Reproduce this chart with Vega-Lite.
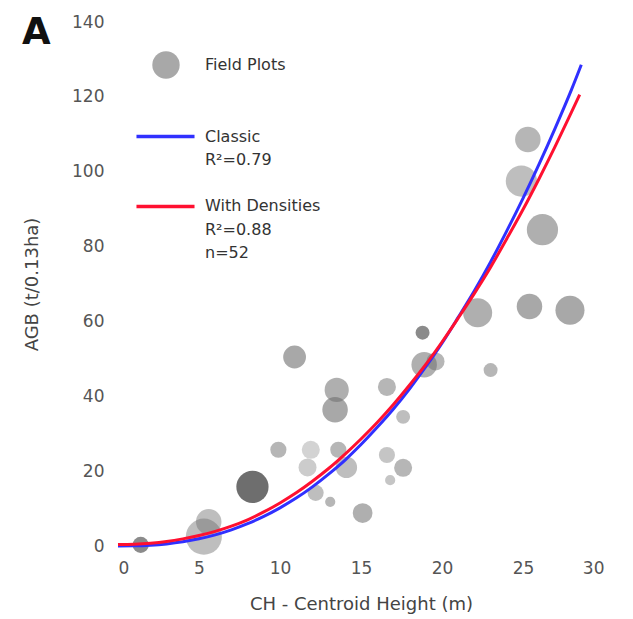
{
  "$schema": "https://vega.github.io/schema/vega-lite/v6.json",
  "autosize": "none",
  "width": 486,
  "height": 524,
  "padding": {"left": 118, "top": 22, "right": 29, "bottom": 73},
  "background": "white",
  "title": {"text": "A", "anchor": "start", "frame": "group", "dx": -96, "dy": 43, "fontSize": 37, "fontWeight": "bold", "font": "DejaVu Sans", "color": "#111"},
  "config": {
    "view": {"stroke": null},
    "font": "DejaVu Sans",
    "axis": {"grid": false, "domain": false, "ticks": false, "labelFont": "DejaVu Sans", "labelFontSize": 17, "labelColor": "#555", "titleFont": "DejaVu Sans", "titleFontSize": 18, "titleFontWeight": "normal", "titleColor": "#444"},
    "legend": {"labelFont": "DejaVu Sans", "labelColor": "#333", "labelFontSize": 16}
  },
  "datasets": {
    "plots": [
      {"ch": 1.4, "agb": 0.3, "w": 2, "tone": 0.8, "kind": "Field Plots"},
      {"ch": 5.3, "agb": 2.5, "w": 10, "tone": 0.45, "kind": "Field Plots"},
      {"ch": 5.6, "agb": 6.5, "w": 5, "tone": 0.45, "kind": "Field Plots"},
      {"ch": 8.3, "agb": 15.8, "w": 8, "tone": 1.0, "kind": "Field Plots"},
      {"ch": 10.9, "agb": 50.5, "w": 4, "tone": 0.6, "kind": "Field Plots"},
      {"ch": 9.9, "agb": 25.7, "w": 2, "tone": 0.5, "kind": "Field Plots"},
      {"ch": 11.9, "agb": 25.7, "w": 2.5, "tone": 0.3, "kind": "Field Plots"},
      {"ch": 11.7, "agb": 21, "w": 2.5, "tone": 0.35, "kind": "Field Plots"},
      {"ch": 12.2, "agb": 14.2, "w": 2, "tone": 0.45, "kind": "Field Plots"},
      {"ch": 13.1, "agb": 11.8, "w": 0.8, "tone": 0.5, "kind": "Field Plots"},
      {"ch": 13.5, "agb": 41.7, "w": 4.5, "tone": 0.55, "kind": "Field Plots"},
      {"ch": 13.4, "agb": 36.4, "w": 5, "tone": 0.6, "kind": "Field Plots"},
      {"ch": 13.6, "agb": 25.7, "w": 2, "tone": 0.5, "kind": "Field Plots"},
      {"ch": 14.1, "agb": 21, "w": 3.5, "tone": 0.45, "kind": "Field Plots"},
      {"ch": 15.1, "agb": 8.8, "w": 3, "tone": 0.55, "kind": "Field Plots"},
      {"ch": 16.6, "agb": 42.5, "w": 2.5, "tone": 0.5, "kind": "Field Plots"},
      {"ch": 17.6, "agb": 34.5, "w": 1.5, "tone": 0.45, "kind": "Field Plots"},
      {"ch": 16.6, "agb": 24.3, "w": 2, "tone": 0.4, "kind": "Field Plots"},
      {"ch": 17.6, "agb": 20.9, "w": 2.5, "tone": 0.5, "kind": "Field Plots"},
      {"ch": 16.8, "agb": 17.6, "w": 0.8, "tone": 0.4, "kind": "Field Plots"},
      {"ch": 18.8, "agb": 57, "w": 1.5, "tone": 0.8, "kind": "Field Plots"},
      {"ch": 18.9, "agb": 48.4, "w": 5, "tone": 0.55, "kind": "Field Plots"},
      {"ch": 19.6, "agb": 49.3, "w": 2.5, "tone": 0.5, "kind": "Field Plots"},
      {"ch": 22.2, "agb": 62.3, "w": 6.5, "tone": 0.55, "kind": "Field Plots"},
      {"ch": 23.0, "agb": 47, "w": 1.5, "tone": 0.5, "kind": "Field Plots"},
      {"ch": 25.4, "agb": 64, "w": 5, "tone": 0.6, "kind": "Field Plots"},
      {"ch": 27.9, "agb": 63, "w": 6.5, "tone": 0.6, "kind": "Field Plots"},
      {"ch": 25.3, "agb": 108.6, "w": 5, "tone": 0.5, "kind": "Field Plots"},
      {"ch": 24.9, "agb": 97.5, "w": 7.5, "tone": 0.45, "kind": "Field Plots"},
      {"ch": 26.2, "agb": 84.5, "w": 7.5, "tone": 0.55, "kind": "Field Plots"}
    ],
    "fits": [
      {"ch": 0, "agb": 0, "model": "Classic"},
      {"ch": 1, "agb": 0.04, "model": "Classic"},
      {"ch": 2, "agb": 0.21, "model": "Classic"},
      {"ch": 3, "agb": 0.56, "model": "Classic"},
      {"ch": 4, "agb": 1.12, "model": "Classic"},
      {"ch": 5, "agb": 1.92, "model": "Classic"},
      {"ch": 6, "agb": 2.98, "model": "Classic"},
      {"ch": 7, "agb": 4.32, "model": "Classic"},
      {"ch": 8, "agb": 5.96, "model": "Classic"},
      {"ch": 9, "agb": 7.92, "model": "Classic"},
      {"ch": 10, "agb": 10.2, "model": "Classic"},
      {"ch": 11, "agb": 12.8, "model": "Classic"},
      {"ch": 12, "agb": 15.8, "model": "Classic"},
      {"ch": 13, "agb": 19.2, "model": "Classic"},
      {"ch": 14, "agb": 22.9, "model": "Classic"},
      {"ch": 15, "agb": 27.1, "model": "Classic"},
      {"ch": 16, "agb": 31.7, "model": "Classic"},
      {"ch": 17, "agb": 36.6, "model": "Classic"},
      {"ch": 18, "agb": 42.0, "model": "Classic"},
      {"ch": 19, "agb": 47.9, "model": "Classic"},
      {"ch": 20, "agb": 54.2, "model": "Classic"},
      {"ch": 21, "agb": 61.1, "model": "Classic"},
      {"ch": 22, "agb": 68.2, "model": "Classic"},
      {"ch": 23, "agb": 75.9, "model": "Classic"},
      {"ch": 24, "agb": 84.2, "model": "Classic"},
      {"ch": 25, "agb": 92.9, "model": "Classic"},
      {"ch": 26, "agb": 102.1, "model": "Classic"},
      {"ch": 27, "agb": 111.8, "model": "Classic"},
      {"ch": 28, "agb": 122.0, "model": "Classic"},
      {"ch": 28.6, "agb": 128.6, "model": "Classic"},
      {"ch": 0, "agb": 0.4, "model": "With Densities"},
      {"ch": 1, "agb": 0.5, "model": "With Densities"},
      {"ch": 2, "agb": 0.75, "model": "With Densities"},
      {"ch": 3, "agb": 1.2, "model": "With Densities"},
      {"ch": 4, "agb": 1.9, "model": "With Densities"},
      {"ch": 5, "agb": 2.8, "model": "With Densities"},
      {"ch": 6, "agb": 3.9, "model": "With Densities"},
      {"ch": 7, "agb": 5.3, "model": "With Densities"},
      {"ch": 8, "agb": 7.0, "model": "With Densities"},
      {"ch": 9, "agb": 9.1, "model": "With Densities"},
      {"ch": 10, "agb": 11.5, "model": "With Densities"},
      {"ch": 11, "agb": 14.2, "model": "With Densities"},
      {"ch": 12, "agb": 17.3, "model": "With Densities"},
      {"ch": 13, "agb": 20.7, "model": "With Densities"},
      {"ch": 14, "agb": 24.5, "model": "With Densities"},
      {"ch": 15, "agb": 28.6, "model": "With Densities"},
      {"ch": 16, "agb": 33.0, "model": "With Densities"},
      {"ch": 17, "agb": 37.8, "model": "With Densities"},
      {"ch": 18, "agb": 43.0, "model": "With Densities"},
      {"ch": 19, "agb": 48.5, "model": "With Densities"},
      {"ch": 20, "agb": 54.5, "model": "With Densities"},
      {"ch": 21, "agb": 60.9, "model": "With Densities"},
      {"ch": 22, "agb": 67.5, "model": "With Densities"},
      {"ch": 23, "agb": 74.5, "model": "With Densities"},
      {"ch": 24, "agb": 82.1, "model": "With Densities"},
      {"ch": 25, "agb": 89.9, "model": "With Densities"},
      {"ch": 26, "agb": 98.2, "model": "With Densities"},
      {"ch": 27, "agb": 106.9, "model": "With Densities"},
      {"ch": 28, "agb": 116.0, "model": "With Densities"},
      {"ch": 28.5, "agb": 120.6, "model": "With Densities"}
    ]
  },
  "layer": [
    {
      "data": {"name": "plots"},
      "mark": {"type": "point", "filled": true, "color": "#6e6e6e", "strokeWidth": 0},
      "encoding": {
        "x": {"field": "ch", "type": "quantitative", "scale": {"domain": [0, 30]}, "axis": {"values": [0, 5, 10, 15, 20, 25, 30], "labelPadding": 14, "title": "CH - Centroid Height (m)", "titlePadding": 19}},
        "y": {"field": "agb", "type": "quantitative", "scale": {"domain": [0, 140]}, "axis": {"values": [0, 20, 40, 60, 80, 100, 120, 140], "labelPadding": 14, "title": "AGB (t/0.13ha)", "titlePadding": 30}},
        "size": {"field": "w", "type": "quantitative", "scale": {"domain": [0, 10], "range": [0, 1300]}, "legend": null},
        "opacity": {"field": "tone", "type": "quantitative", "scale": {"domain": [0, 1], "range": [0, 1]}, "legend": null},
        "shape": {"field": "kind", "type": "nominal", "scale": {"domain": ["Field Plots"], "range": ["circle"]}, "legend": {"title": null, "orient": "none", "legendX": 34, "legendY": 29, "symbolSize": 750, "symbolFillColor": "#a6a6a6", "symbolStrokeWidth": 0, "symbolOpacity": 0.6, "labelOffset": 25}}
      }
    },
    {
      "data": {"name": "fits"},
      "mark": {"type": "line", "strokeWidth": 3, "interpolate": "monotone"},
      "encoding": {
        "x": {"field": "ch", "type": "quantitative"},
        "y": {"field": "agb", "type": "quantitative"},
        "color": {"field": "model", "type": "nominal", "scale": {"domain": ["Classic", "R²=0.79", " ", "With Densities", "R²=0.88", "n=52"], "range": ["#3030ff", "transparent", "transparent", "#ff1030", "transparent", "transparent"]}, "legend": {"title": null, "orient": "none", "direction": "vertical", "legendX": 38, "legendY": 105, "symbolType": "M-3.87,0H3.87", "symbolSize": 225, "symbolStrokeWidth": 3.5, "symbolFillColor": "transparent", "labelOffset": 30, "rowPadding": 5.3}}
      }
    }
  ]
}
